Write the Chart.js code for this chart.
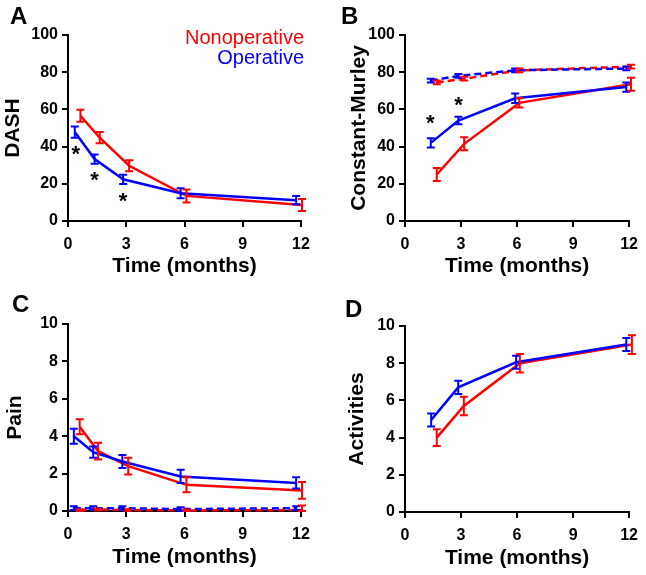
<!DOCTYPE html>
<html>
<head>
<meta charset="utf-8">
<title>Outcomes over time</title>
<script src="https://cdn.jsdelivr.net/npm/chart.js"></script>
<style>
  body { margin: 0; background: #fff; }
  #wrap { position: relative; width: 646px; height: 575px; }
  canvas { position: absolute; }
</style>
</head>
<body>
<div id="wrap">
  <canvas id="panelA" width="323" height="290" style="left:0;top:0"></canvas>
  <canvas id="panelB" width="323" height="290" style="left:323px;top:0"></canvas>
  <canvas id="panelC" width="323" height="285" style="left:0;top:290px"></canvas>
  <canvas id="panelD" width="323" height="285" style="left:323px;top:290px"></canvas>
</div>

<script>
// ---- data ----
const xTicks = [0, 3, 6, 9, 12];

// A: DASH
const dashOpX = [0.35, 1.37, 2.84, 5.8, 11.75];
const dashNonX = [0.64, 1.63, 3.15, 6.1, 12.05];
const dashOp = [47.8, 33.3, 22.4, 14.9, 11.2];
const dashOpErr = [3, 2.5, 2.5, 2.7, 2.2];
const dashNon = [56.6, 44.8, 29.7, 13.5, 8.6];
const dashNonErr = [3.2, 3, 3, 3.5, 3.2];
const dashStars = [[0.4, 38.2], [1.37, 24.4], [2.84, 13.1]];

// B: Constant-Murley
const cmOpX = [1.38, 2.86, 5.9, 11.85];
const cmNonX = [1.7, 3.17, 6.12, 12.1];
const cmOp = [42, 54, 66, 72];
const cmOpErr = [2.5, 2, 2.5, 2.5];
const cmNon = [25, 41.5, 63.5, 73.5];
const cmNonErr = [3.5, 3.5, 2.5, 3.5];
const cmOpOther = [75.5, 78, 81, 82];
const cmOpOtherErr = [1, 1, 1, 1];
const cmNonOther = [74.5, 76.5, 81, 83];
const cmNonOtherErr = [1, 1, 1, 1];
const cmStars = [[1.35, 54.7], [2.86, 64.5]];

// C: Pain
const painOpX = [0.3, 1.3, 2.8, 5.8, 11.75];
const painNonX = [0.6, 1.55, 3.1, 6.1, 12.05];
const painOp = [4.0, 3.15, 2.65, 1.85, 1.5];
const painOpErr = [0.4, 0.3, 0.35, 0.35, 0.3];
const painNon = [4.5, 3.2, 2.4, 1.4, 1.1];
const painNonErr = [0.4, 0.45, 0.45, 0.4, 0.45];
const painOpOther = [0.15, 0.15, 0.15, 0.1, 0.15];
const painOpOtherErr = [0.1, 0.1, 0.1, 0.1, 0.1];
const painNonOther = [0.05, 0.08, 0.05, 0.03, 0.05];
const painNonOtherErr = [0.05, 0.05, 0.05, 0.05, 0.25];

// D: Activities
const actOpX = [1.4, 2.85, 5.95, 11.85];
const actNonX = [1.7, 3.15, 6.15, 12.15];
const actOp = [4.95, 6.7, 8.05, 9.0];
const actOpErr = [0.35, 0.35, 0.35, 0.35];
const actNon = [4.0, 5.7, 8.0, 9.0];
const actNonErr = [0.45, 0.5, 0.5, 0.5];

const RED = '#ff0000';
const BLUE = '#0000ff';
const FONT = "'Liberation Sans', Arial, sans-serif";

function pts(xs, ys) {
  return xs.map((x, i) => ({ x: x, y: ys[i] }));
}

function series(label, xs, ys, err, color, dashed) {
  return {
    label: label,
    data: pts(xs, ys),
    err: err,
    borderColor: color,
    backgroundColor: color,
    borderWidth: 2.5,
    borderDash: dashed ? [7, 4] : [],
    pointRadius: 0,
    tension: 0,
    clip: false
  };
}

// vertical error bars with caps, drawn through the chart's scales
const errorBars = {
  id: 'errorBars',
  afterDatasetsDraw(chart) {
    const { ctx, scales: { x, y } } = chart;
    ctx.save();
    ctx.lineWidth = 2;
    ctx.setLineDash([]);
    chart.data.datasets.forEach(ds => {
      if (!ds.err) return;
      ctx.strokeStyle = ds.borderColor;
      ds.data.forEach((p, i) => {
        const px = x.getPixelForValue(p.x);
        const top = y.getPixelForValue(p.y + ds.err[i]);
        const bot = y.getPixelForValue(Math.max(0, p.y - ds.err[i]));
        ctx.beginPath();
        ctx.moveTo(px, top); ctx.lineTo(px, bot);
        ctx.moveTo(px - 4, top); ctx.lineTo(px + 4, top);
        ctx.moveTo(px - 4, bot); ctx.lineTo(px + 4, bot);
        ctx.stroke();
      });
    });
    ctx.restore();
  }
};

// panel letter, significance stars, inline legend
const extras = {
  id: 'extras',
  afterDraw(chart, args, opts) {
    const { ctx, scales: { x, y } } = chart;
    ctx.save();
    ctx.fillStyle = '#000';
    ctx.font = 'bold 24px ' + FONT;
    ctx.textBaseline = 'alphabetic';
    ctx.textAlign = 'left';
    ctx.fillText(opts.letter, opts.letterX, opts.letterY);

    ctx.font = 'bold 22px ' + FONT;
    ctx.textAlign = 'center';
    ctx.textBaseline = 'middle';
    (opts.stars || []).forEach(s => {
      ctx.fillText('*', x.getPixelForValue(s[0]), y.getPixelForValue(s[1]) + 5);
    });

    if (opts.legend) {
      ctx.font = '20px ' + FONT;
      ctx.textAlign = 'right';
      ctx.textBaseline = 'middle';
      const ds = chart.data.datasets;
      ctx.fillStyle = ds[1].borderColor;
      ctx.fillText(ds[1].label, chart.chartArea.right + 3, 38);
      ctx.fillStyle = ds[0].borderColor;
      ctx.fillText(ds[0].label, chart.chartArea.right + 3, 58);
    }
    ctx.restore();
  }
};

function makePanel(id, cfg) {
  const yTicks = [];
  for (let v = 0; v <= cfg.yMax; v += cfg.yStep) yTicks.push(v);
  new Chart(document.getElementById(id), {
    type: 'line',
    data: { datasets: cfg.datasets },
    plugins: [errorBars, extras],
    options: {
      responsive: false,
      animation: false,
      layout: { padding: { top: cfg.top, right: cfg.right, left: 0, bottom: 0 } },
      plugins: {
        legend: { display: false },
        tooltip: { enabled: false },
        extras: { letter: cfg.letter, letterX: cfg.letterX, letterY: cfg.letterY, stars: cfg.stars, legend: cfg.legend }
      },
      scales: {
        x: {
          type: 'linear',
          min: 0,
          max: 12,
          afterBuildTicks: s => { s.ticks = xTicks.map(v => ({ value: v })); },
          afterFit: s => { s.height = cfg.xHeight; },
          border: { color: '#000', width: 2 },
          grid: { drawOnChartArea: false, color: '#000', lineWidth: 2, tickLength: 6 },
          ticks: { color: '#000', padding: 8, maxRotation: 0, font: { family: FONT, size: 16, weight: 'bold' } },
          title: {
            display: true,
            text: 'Time (months)',
            color: '#000',
            padding: { top: 0, bottom: cfg.xTitlePad },
            font: { family: FONT, size: 21, weight: 'bold', lineHeight: 1 }
          }
        },
        y: {
          min: 0,
          max: cfg.yMax,
          afterBuildTicks: s => { s.ticks = yTicks.map(v => ({ value: v })); },
          afterFit: s => { s.width = cfg.left; },
          border: { color: '#000', width: 2 },
          grid: { drawOnChartArea: false, color: '#000', lineWidth: 2, tickLength: 6 },
          ticks: { color: '#000', padding: 4, font: { family: FONT, size: 16, weight: 'bold' } },
          title: {
            display: true,
            text: cfg.yTitle,
            color: '#000',
            padding: { top: cfg.yTitlePad, bottom: 0 },
            font: { family: FONT, size: 21, weight: 'bold', lineHeight: 1 }
          }
        }
      }
    }
  });
}

makePanel('panelA', {
  letter: 'A', letterX: 10, letterY: 24,
  top: 35, right: 22, left: 68, xHeight: 69, xTitlePad: 13,
  yTitle: 'DASH', yTitlePad: 3, yMax: 100, yStep: 20,
  stars: dashStars, legend: true,
  datasets: [
    series('Operative', dashOpX, dashOp, dashOpErr, BLUE, false),
    series('Nonoperative', dashNonX, dashNon, dashNonErr, RED, false)
  ]
});

makePanel('panelB', {
  letter: 'B', letterX: 18, letterY: 24,
  top: 35, right: 11, left: 82, xHeight: 69, xTitlePad: 13,
  yTitle: 'Constant-Murley', yTitlePad: 26, yMax: 100, yStep: 20,
  stars: cmStars,
  datasets: [
    series('Operative', cmOpX, cmOp, cmOpErr, BLUE, false),
    series('Nonoperative', cmNonX, cmNon, cmNonErr, RED, false),
    series('Operative (other side)', cmOpX, cmOpOther, cmOpOtherErr, BLUE, true),
    series('Nonoperative (other side)', cmNonX, cmNonOther, cmNonOtherErr, RED, true)
  ]
});

makePanel('panelC', {
  letter: 'C', letterX: 12, letterY: 22,
  top: 34, right: 22, left: 68, xHeight: 64, xTitlePad: 7,
  yTitle: 'Pain', yTitlePad: 5, yMax: 10, yStep: 2,
  datasets: [
    series('Operative', painOpX, painOp, painOpErr, BLUE, false),
    series('Nonoperative', painNonX, painNon, painNonErr, RED, false),
    series('Operative (other side)', painOpX, painOpOther, painOpOtherErr, BLUE, true),
    series('Nonoperative (other side)', painNonX, painNonOther, painNonOtherErr, RED, true)
  ]
});

makePanel('panelD', {
  letter: 'D', letterX: 22, letterY: 27,
  top: 36, right: 11, left: 82, xHeight: 63, xTitlePad: 6,
  yTitle: 'Activities', yTitlePad: 24, yMax: 10, yStep: 2,
  datasets: [
    series('Operative', actOpX, actOp, actOpErr, BLUE, false),
    series('Nonoperative', actNonX, actNon, actNonErr, RED, false)
  ]
});
</script>
</body>
</html>
